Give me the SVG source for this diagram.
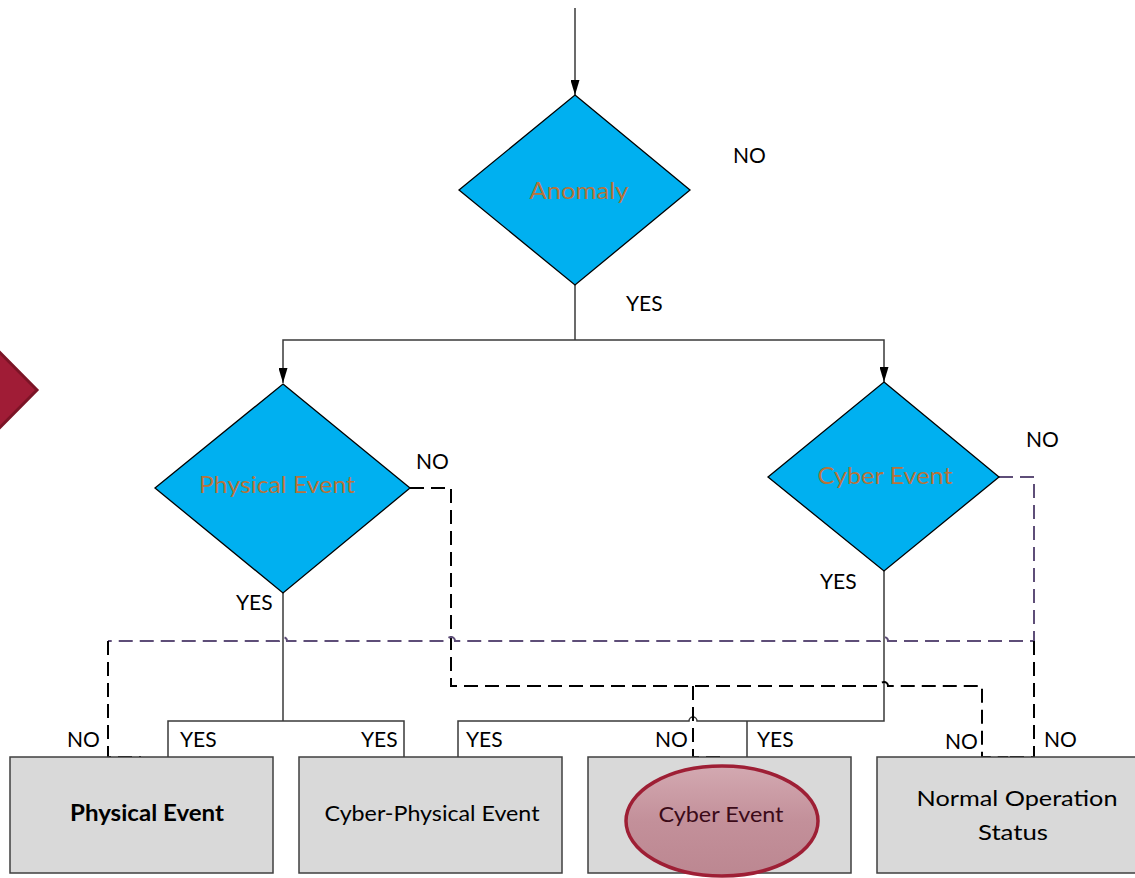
<svg xmlns="http://www.w3.org/2000/svg" width="1135" height="878" viewBox="0 0 1135 878">
  <defs>
    <style>
      .decision { fill: #00B0F0; stroke: #000000; stroke-width: 1.3; }
      .decision-label { font-family: Lato, "Open Sans", sans-serif; font-size: 24px; fill: #B8733A; text-anchor: middle; }
      .box { fill: #D9D9D9; stroke: #3F3F3F; stroke-width: 1.5; }
      .box-label { font-family: Lato, "Open Sans", sans-serif; font-size: 22px; fill: #000000; text-anchor: middle; }
      .tag { font-family: Lato, "Open Sans", sans-serif; font-size: 21px; fill: #000000; }
      .solid { fill: none; stroke: #3A3A3A; stroke-width: 1.5; }
      .dash { fill: none; stroke: #000000; stroke-width: 2; stroke-dasharray: 14 7; }
      .dash-purple { fill: none; stroke: #5E4E78; stroke-width: 2; stroke-dasharray: 14 7; }
    </style>
    <marker id="arrow" markerUnits="userSpaceOnUse" viewBox="0 0 15 9" markerWidth="15" markerHeight="9" refX="15" refY="4.5" orient="auto">
      <path d="M0,0 L15,4.5 L0,9 z" fill="#000000"/>
    </marker>
    <linearGradient id="ovalFill" x1="0" y1="0" x2="0" y2="1">
      <stop offset="0" stop-color="#D3A9B1"/>
      <stop offset="0.5" stop-color="#C3909A"/>
      <stop offset="1" stop-color="#BC8791"/>
    </linearGradient>
  </defs>

  <!-- side marker chevron -->
  <g id="side-chevron">
    <polygon points="-40,312 37,390 -40,468" fill="#A01C36" stroke="#7B1426" stroke-width="3"/>
  </g>

  <!-- connectors -->
  <g id="connectors">
    <!-- entry into Anomaly -->
    <path class="solid" d="M575,8 V95" marker-end="url(#arrow)"/>
    <!-- Anomaly YES splits to both checks -->
    <path class="solid" d="M575,285 V340"/>
    <path class="solid" d="M575,340 H283 V383" marker-end="url(#arrow)"/>
    <path class="solid" d="M575,340 H884 V382" marker-end="url(#arrow)"/>
    <!-- Physical Event YES -->
    <path class="solid" d="M283,593 V721"/>
    <path class="solid" d="M168,757 V721 H404 V757"/>
    <!-- Cyber Event YES -->
    <path class="solid" d="M884,571 V721 H697 A4,4 0 0 0 689,721 H458 V757"/>
    <path class="solid" d="M747,721 V757"/>
    <!-- Physical Event NO -->
    <path class="dash" d="M410,488 H451 V686 H880 A4,4 0 0 1 888,686 H982 V757 H1008"/>
    <path class="dash" d="M693,686 V757 H720"/>
    <!-- Cyber Event NO -->
    <path class="dash-purple" d="M999,477 H1034 V641 H888 A4,4 0 0 0 880,641 H455 A4,4 0 0 0 447,641 H287 A4,4 0 0 0 279,641 H108"/>
    <path class="dash" d="M108,641 V757 H141"/>
    <path class="dash" d="M1034,641 V757 H1008"/>
  </g>

  <!-- decisions -->
  <g id="anomaly">
    <polygon class="decision" points="575,95 690,190 575,285 459,190"/>
    <text class="decision-label" x="579" y="199" textLength="99" lengthAdjust="spacingAndGlyphs">Anomaly</text>
  </g>
  <g id="physical-check">
    <polygon class="decision" points="283,384 410,488 283,593 155,488"/>
    <text class="decision-label" x="277" y="493" textLength="156" lengthAdjust="spacingAndGlyphs">Physical Event</text>
  </g>
  <g id="cyber-check">
    <polygon class="decision" points="884,382 999,477 884,571 768,477"/>
    <text class="decision-label" x="885" y="484" textLength="135" lengthAdjust="spacingAndGlyphs">Cyber Event</text>
  </g>

  <!-- branch tags -->
  <g id="tags">
    <text class="tag" x="733" y="163">NO</text>
    <text class="tag" x="626" y="311">YES</text>
    <text class="tag" x="416" y="469">NO</text>
    <text class="tag" x="1026" y="447">NO</text>
    <text class="tag" x="236" y="610">YES</text>
    <text class="tag" x="820" y="589">YES</text>
    <text class="tag" x="67" y="747">NO</text>
    <text class="tag" x="180" y="747">YES</text>
    <text class="tag" x="361" y="747">YES</text>
    <text class="tag" x="466" y="747">YES</text>
    <text class="tag" x="655" y="747">NO</text>
    <text class="tag" x="757" y="747">YES</text>
    <text class="tag" x="945" y="749">NO</text>
    <text class="tag" x="1044" y="747">NO</text>
  </g>

  <!-- outcomes -->
  <g id="outcome-physical">
    <rect class="box" x="10" y="757" width="263" height="116"/>
    <text class="box-label" x="147" y="821" font-weight="bold" textLength="154" lengthAdjust="spacingAndGlyphs">Physical Event</text>
  </g>
  <g id="outcome-cyber-physical">
    <rect class="box" x="299" y="757" width="263" height="116"/>
    <text class="box-label" x="432" y="821" textLength="215" lengthAdjust="spacingAndGlyphs">Cyber-Physical Event</text>
  </g>
  <g id="outcome-cyber">
    <rect class="box" x="588" y="757" width="263" height="116"/>
    <ellipse cx="722" cy="821" rx="96" ry="55" fill="url(#ovalFill)" stroke="#9E1F35" stroke-width="3.5"/>
    <text class="box-label" x="721" y="822" fill="#3B0A18" style="fill:#3B0A18" textLength="125" lengthAdjust="spacingAndGlyphs">Cyber Event</text>
  </g>
  <g id="outcome-normal">
    <rect class="box" x="877" y="757" width="270" height="116"/>
    <text class="box-label" x="1017" y="806" textLength="201" lengthAdjust="spacingAndGlyphs">Normal Operation</text>
    <text class="box-label" x="1013" y="840" textLength="70" lengthAdjust="spacingAndGlyphs">Status</text>
  </g>
</svg>
